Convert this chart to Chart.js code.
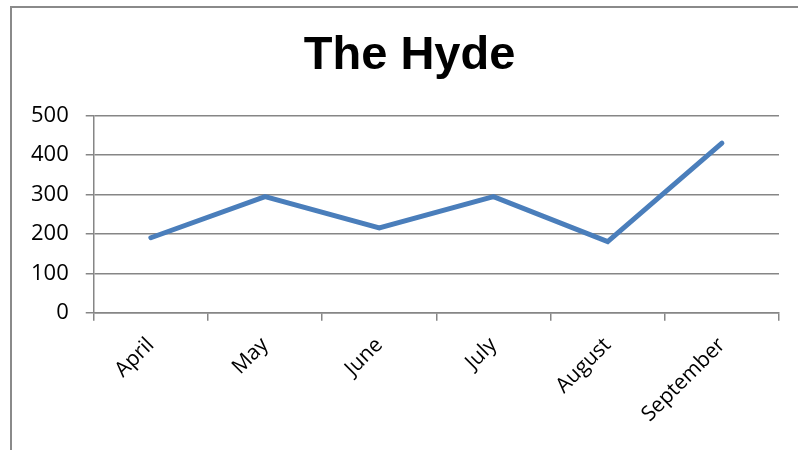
<!DOCTYPE html>
<html>
<head>
<meta charset="utf-8">
<script src="https://cdn.jsdelivr.net/npm/chart.js@4"></script>
<style>
    body { margin: 0; background: #fff; }
    .frame {
        position: absolute; left: 10px; top: 6px; width: 800px; height: 460px;
        border-left: 2px solid #8a8a8a; border-top: 2px solid #8a8a8a;
    }
    .box { position: absolute; left: 0; top: 0; width: 798px; height: 450px; }
</style>
</head>
<body>
<div class="frame"></div>
<div class="box"><canvas id="myChart"></canvas></div>
<script>
const months = ['April', 'May', 'June', 'July', 'August', 'September']
const visits = [190, 294, 215, 294, 180, 430]
const yTicks = [0, 100, 200, 300, 400, 500]

const gray = '#868686'

const data = {
    labels: months,
    datasets: [{
        label: 'The Hyde',
        data: visits,
        borderColor: '#4a7ebb',
        borderWidth: 5,
        pointRadius: 0,
        tension: 0,
        borderCapStyle: 'round',
        borderJoinStyle: 'miter'
    }]
}

const config = {
    type: 'line',
    data: data,
    options: {
        responsive: true,
        maintainAspectRatio: false,
        animation: false,
        layout: { padding: { left: 14, right: 19, top: 0, bottom: 11 } },
        plugins: {
            legend: { display: false },
            tooltip: { enabled: false },
            title: {
                display: true,
                // two leading spaces nudge the centred title right like the original
                text: '  The Hyde',
                color: '#000',
                font: { family: 'Liberation Sans, Arial', size: 47, weight: 'bold' },
                padding: { top: 28, bottom: 31 }
            }
        },
        scales: {
            x: {
                offset: true,
                grid: { display: true, drawOnChartArea: false, color: gray, lineWidth: 1.5, tickLength: 8, offset: true },
                border: { color: gray, width: 1.5 },
                ticks: {
                    color: '#000',
                    font: { family: 'Open Sans', size: 21 },
                    minRotation: 45, maxRotation: 45,
                    padding: 12
                }
            },
            y: {
                min: 0, max: 500,
                afterBuildTicks: axis => { axis.ticks = yTicks.map(v => ({ value: v })) },
                grid: { color: gray, lineWidth: 1.5, tickLength: 8 },
                border: { color: gray, width: 1.5 },
                ticks: {
                    color: '#000',
                    font: { family: 'Open Sans', size: 22 },
                    padding: 17
                }
            }
        }
    }
}

const ctx = document.getElementById('myChart').getContext('2d')
new Chart(ctx, config)
</script>
</body>
</html>
